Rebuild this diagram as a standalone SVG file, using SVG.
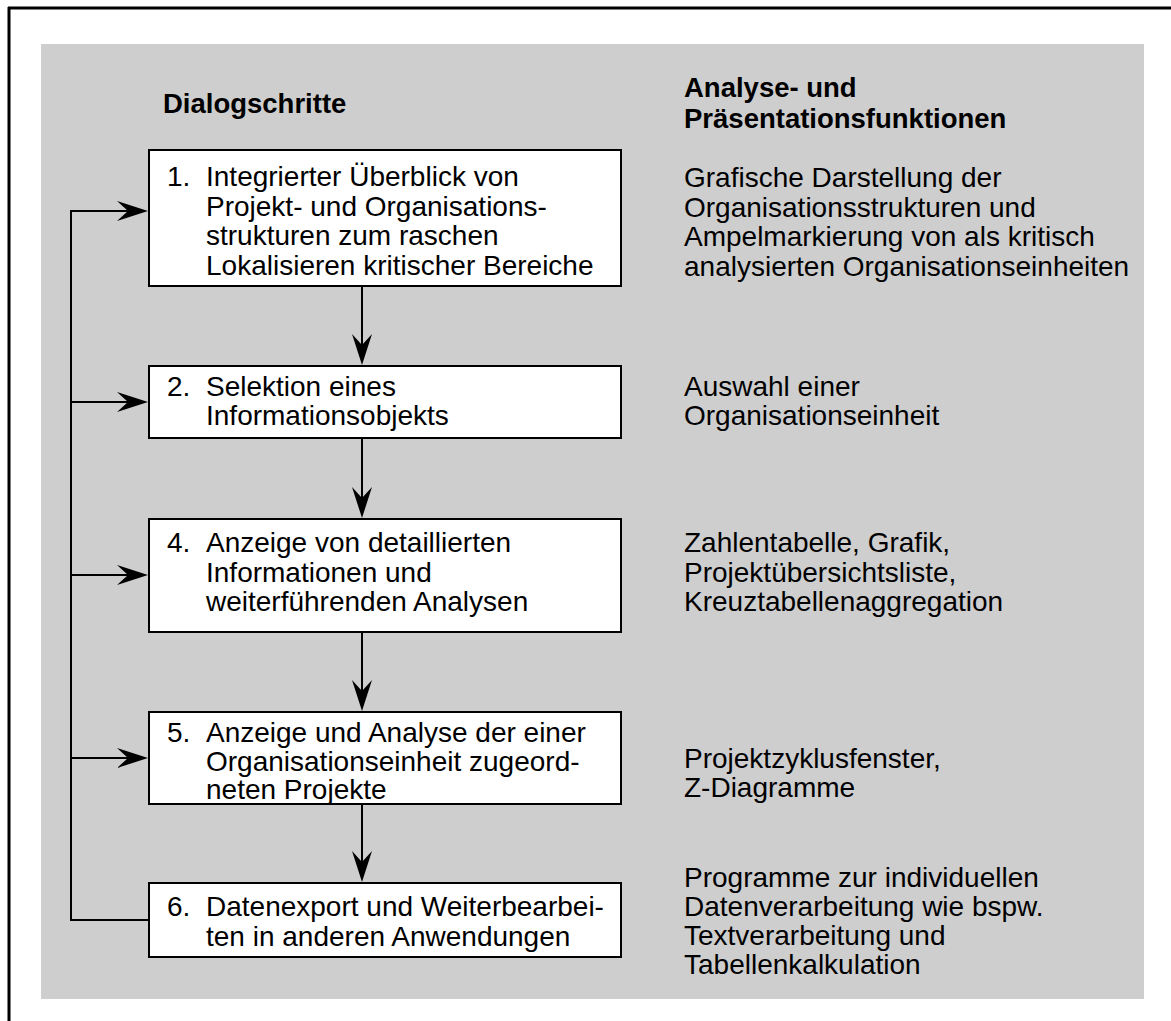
<svg xmlns="http://www.w3.org/2000/svg" width="1171" height="1021" viewBox="0 0 1171 1021">
  <style>
    .frame { stroke: #000; stroke-width: 3; fill: none; }
    .panel { fill: #cecece; }
    .step rect { fill: #fff; stroke: #000; stroke-width: 2; }
    text { font-family: "Liberation Sans", Arial, sans-serif; font-size: 28px; fill: #000; }
    .head { font-weight: bold; font-size: 27.5px; }
    .conn { stroke: #000; stroke-width: 2; fill: none; }
  </style>
  <defs>
    <marker id="arrow" markerUnits="userSpaceOnUse" viewBox="-21 -11 33 22" markerWidth="33" markerHeight="22" refX="0" refY="0" orient="auto">
      <path d="M11,0 L-20,-10 L-9,0 L-20,10 Z" fill="#000"/>
    </marker>
  </defs>

  <!-- outer frame (top and left edges) -->
  <line class="frame" x1="8" y1="8" x2="1171" y2="8"/>
  <line class="frame" x1="9" y1="7" x2="9" y2="1021"/>

  <!-- grey panel -->
  <rect class="panel" x="41" y="44" width="1103" height="955"/>

  <!-- column headings -->
  <g id="heading-left">
    <text class="head" x="163" y="113">Dialogschritte</text>
  </g>
  <g id="heading-right">
    <text class="head" x="684" y="97">Analyse- und</text>
    <text class="head" x="684" y="128">Präsentationsfunktionen</text>
  </g>

  <!-- connectors -->
  <g id="connectors">
    <line class="conn" x1="71" y1="211" x2="71" y2="920"/>
    <line class="conn" x1="70" y1="920" x2="149" y2="920"/>
    <line class="conn" x1="70" y1="211" x2="137" y2="211" marker-end="url(#arrow)"/>
    <line class="conn" x1="70" y1="402" x2="137" y2="402" marker-end="url(#arrow)"/>
    <line class="conn" x1="70" y1="575" x2="137" y2="575" marker-end="url(#arrow)"/>
    <line class="conn" x1="70" y1="758" x2="137" y2="758" marker-end="url(#arrow)"/>
    <line class="conn" x1="362" y1="286" x2="362" y2="354" marker-end="url(#arrow)"/>
    <line class="conn" x1="362" y1="438" x2="362" y2="507" marker-end="url(#arrow)"/>
    <line class="conn" x1="362" y1="632" x2="362" y2="700" marker-end="url(#arrow)"/>
    <line class="conn" x1="362" y1="804" x2="362" y2="871" marker-end="url(#arrow)"/>
  </g>

  <!-- step 1 -->
  <g id="step1" class="step">
    <rect x="149" y="150" width="472" height="136"/>
    <text x="167" y="186">1.</text>
    <text x="206" y="186">Integrierter Überblick von</text>
    <text x="206" y="215.5">Projekt- und Organisations-</text>
    <text x="206" y="245">strukturen zum raschen</text>
    <text x="206" y="274.5">Lokalisieren kritischer Bereiche</text>
  </g>
  <g id="func1">
    <text x="684" y="187">Grafische Darstellung der</text>
    <text x="684" y="216.5">Organisationsstrukturen und</text>
    <text x="684" y="246">Ampelmarkierung von als kritisch</text>
    <text x="684" y="275.5">analysierten Organisationseinheiten</text>
  </g>

  <!-- step 2 -->
  <g id="step2" class="step">
    <rect x="149" y="366" width="472" height="72"/>
    <text x="167" y="396">2.</text>
    <text x="206" y="396">Selektion eines</text>
    <text x="206" y="425">Informationsobjekts</text>
  </g>
  <g id="func2">
    <text x="684" y="396">Auswahl einer</text>
    <text x="684" y="425">Organisationseinheit</text>
  </g>

  <!-- step 4 -->
  <g id="step4" class="step">
    <rect x="149" y="519" width="472" height="113"/>
    <text x="167" y="552">4.</text>
    <text x="206" y="552">Anzeige von detaillierten</text>
    <text x="206" y="581.5">Informationen und</text>
    <text x="206" y="611">weiterführenden Analysen</text>
  </g>
  <g id="func4">
    <text x="684" y="552">Zahlentabelle, Grafik,</text>
    <text x="684" y="581.5">Projektübersichtsliste,</text>
    <text x="684" y="611">Kreuztabellenaggregation</text>
  </g>

  <!-- step 5 -->
  <g id="step5" class="step">
    <rect x="149" y="712" width="472" height="92"/>
    <text x="167" y="742">5.</text>
    <text x="206" y="742">Anzeige und Analyse der einer</text>
    <text x="206" y="771">Organisationseinheit zugeord-</text>
    <text x="206" y="799">neten Projekte</text>
  </g>
  <g id="func5">
    <text x="684" y="768">Projektzyklusfenster,</text>
    <text x="684" y="797">Z-Diagramme</text>
  </g>

  <!-- step 6 -->
  <g id="step6" class="step">
    <rect x="149" y="883" width="472" height="74"/>
    <text x="167" y="916">6.</text>
    <text x="206" y="916">Datenexport und Weiterbearbei-</text>
    <text x="206" y="946">ten in anderen Anwendungen</text>
  </g>
  <g id="func6">
    <text x="684" y="887">Programme zur individuellen</text>
    <text x="684" y="916">Datenverarbeitung wie bspw.</text>
    <text x="684" y="945">Textverarbeitung und</text>
    <text x="684" y="974">Tabellenkalkulation</text>
  </g>
</svg>
